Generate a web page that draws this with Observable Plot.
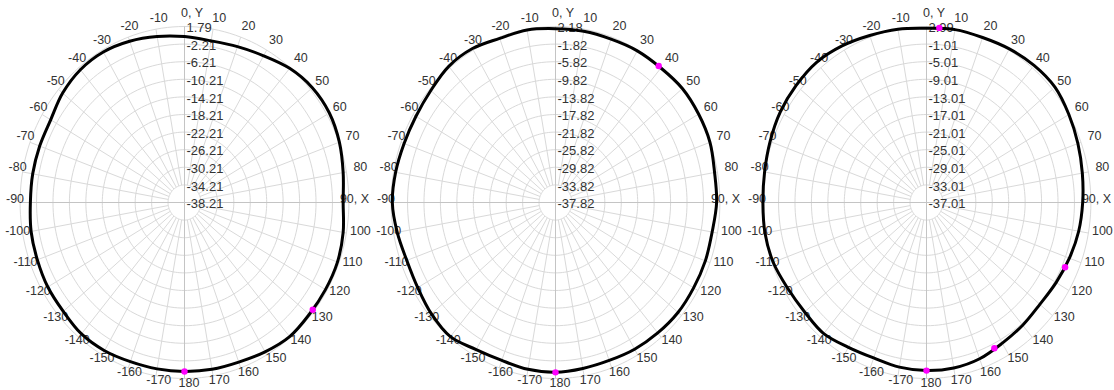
<!DOCTYPE html>
<html><head><meta charset="utf-8">
<script src="https://cdn.jsdelivr.net/npm/d3@7"></script>
<script src="https://cdn.jsdelivr.net/npm/@observablehq/plot@0.6"></script>
<style>
html,body{margin:0;padding:0;background:#fff;}
#row{display:flex;width:1114px;height:390px;overflow:hidden;}
#row svg{display:block;flex:none;}
</style></head><body><div id="row"></div>
<script>
// ---- data ----
const angles = [0,10,20,30,40,50,60,70,80,90,100,110,120,130,140,150,160,170,180,190,200,210,220,230,240,250,260,270,280,290,300,310,320,330,340,350];
const angleTicks = [0,10,20,30,40,50,60,70,80,90,100,110,120,130,140,150,160,170,180,-170,-160,-150,-140,-130,-120,-110,-100,-90,-80,-70,-60,-50,-40,-30,-20,-10];
const angleTickLabels = ["0, Y","10","20","30","40","50","60","70","80","90, X","100","110","120","130","140","150","160","170","180","-170","-160","-150","-140","-130","-120","-110","-100","-90","-80","-70","-60","-50","-40","-30","-20","-10"];

const ringTicks1 = [1.79,-2.21,-6.21,-10.21,-14.21,-18.21,-22.21,-26.21,-30.21,-34.21,-38.21];
const ringTicks2 = [2.18,-1.82,-5.82,-9.82,-13.82,-17.82,-21.82,-25.82,-29.82,-33.82,-37.82];
const ringTicks3 = [2.99,-1.01,-5.01,-9.01,-13.01,-17.01,-21.01,-25.01,-29.01,-33.01,-37.01];

const gain1 = [-0.51,-0.91,-0.51,0.29,1.59,2.39,2.49,1.89,0.99,0.39,0.99,1.39,1.39,1.39,1.59,0.99,0.39,0.29,0.19,0.19,0.29,0.69,0.79,0.29,0.19,-0.11,-0.31,-0.71,-0.71,-0.71,-0.61,0.49,1.19,1.29,0.79,0.09];
const gain2 = [1.68,1.68,1.68,1.98,2.08,2.48,2.38,2.18,1.48,1.38,0.88,0.98,0.98,1.08,0.88,0.68,0.38,0.48,0.78,0.68,0.38,0.78,1.98,1.58,0.88,0.68,1.28,1.88,1.68,1.38,1.38,1.78,2.58,2.58,1.88,1.98];
const gain3 = [2.59,2.89,2.89,3.29,3.69,3.79,2.99,2.19,1.49,0.99,0.59,-0.01,-0.61,-1.01,-0.61,-0.11,0.79,1.19,1.19,0.99,0.59,0.99,1.89,1.69,1.99,2.69,2.89,2.79,2.99,3.49,4.09,4.39,4.59,4.09,3.39,2.99];

const markerAngles1 = [128,180];
const markerGains1 = [1.39,0.19];
const markerAngles2 = [39,180];
const markerGains2 = [2.08,0.78];
const markerAngles3 = [4.5,113.6,153.5,180];
const markerGains3 = [2.79,-0.21,-0.01,1.19];

// ---- layout ----
const SX = 4.11, SY = 4.4, CX = 184, CY = 202, H = 390;
const LX = 174 / SX, LY = 184 / SY;
const rad = d => d * Math.PI / 180;
const px = (a, r) => r * Math.sin(rad(a));
const py = (a, r) => r * Math.cos(rad(a));
const FONT = "'Liberation Sans', Arial, sans-serif";

function panel(ringTicks, gains, mAngles, mGains, width) {
  const lo = ringTicks[ringTicks.length - 1];
  const ringTable = ringTicks.map(t => ({t, r: t - lo}));
  const rings = ringTable.filter(d => d.r > 0).map(d => d.r);
  const outer = d3.max(rings), inner = d3.min(rings);
  const ringPts = rings.flatMap(r => d3.range(0, 361, 2).map(a => ({r, a})));
  const spokes = angles.filter(a => a % 90 !== 0);
  const axes = [0, 90];
  const curve = angles.map((a, i) => ({a, r: gains[i] - lo}));
  const mk = mAngles.map((a, i) => ({a, r: mGains[i] - lo}));
  const labels = angleTicks.map((a, i) => ({a, t: angleTickLabels[i]}));
  const plainLabels = labels.filter(d => d.a !== 0 && d.a !== 90);
  const topLabel = labels.filter(d => d.a === 0);
  const rightLabel = labels.filter(d => d.a === 90);
  const txt = {fontSize: 12.5, fill: "#333", fontFamily: FONT};
  return Plot.plot({
    width, height: H, margin: 0,
    style: {background: "#fff", fontFamily: FONT},
    x: {domain: [-CX / SX, (width - CX) / SX], axis: null},
    y: {domain: [-(H - CY) / SY, CY / SY], axis: null},
    marks: [
      Plot.line(ringPts, {x: d => px(d.a, d.r), y: d => py(d.a, d.r), z: "r", stroke: "#d9d9d9", strokeWidth: 1}),
      Plot.link(spokes, {x1: a => px(a, inner), y1: a => py(a, inner), x2: a => px(a, outer), y2: a => py(a, outer), stroke: "#d9d9d9", strokeWidth: 1}),
      Plot.link(axes, {x1: a => px(a, -outer), y1: a => py(a, -outer), x2: a => px(a, outer), y2: a => py(a, outer), stroke: "#c4c4c4", strokeWidth: 1}),
      Plot.text(ringTable, {x: 0, y: d => d.r, text: d => d.t.toFixed(2), textAnchor: "start", dx: 2, dy: 1.5, ...txt, fontSize: 13}),
      Plot.text(plainLabels, {x: d => LX * Math.sin(rad(d.a)), y: d => LY * Math.cos(rad(d.a)), text: "t", dx: 4.5, dy: -3.5, ...txt}),
      Plot.text(topLabel, {x: d => LX * Math.sin(rad(d.a)), y: d => LY * Math.cos(rad(d.a)), text: "t", dx: 7.5, dy: -5.5, ...txt}),
      Plot.text(rightLabel, {x: d => LX * Math.sin(rad(d.a)), y: d => LY * Math.cos(rad(d.a)), text: "t", dx: -4, dy: -3.5, ...txt}),
      Plot.line(curve, {x: d => px(d.a, d.r), y: d => py(d.a, d.r), curve: "catmull-rom-closed", stroke: "#000", strokeWidth: 3, strokeLinejoin: "round"}),
      Plot.dot(mk, {x: d => px(d.a, d.r), y: d => py(d.a, d.r), r: 3.2, fill: "#ff00ff", stroke: "none"})
    ]
  });
}

const row = document.getElementById("row");
row.append(panel(ringTicks1, gain1, markerAngles1, markerGains1, 371));
row.append(panel(ringTicks2, gain2, markerAngles2, markerGains2, 371));
row.append(panel(ringTicks3, gain3, markerAngles3, markerGains3, 372));
</script></body></html>
